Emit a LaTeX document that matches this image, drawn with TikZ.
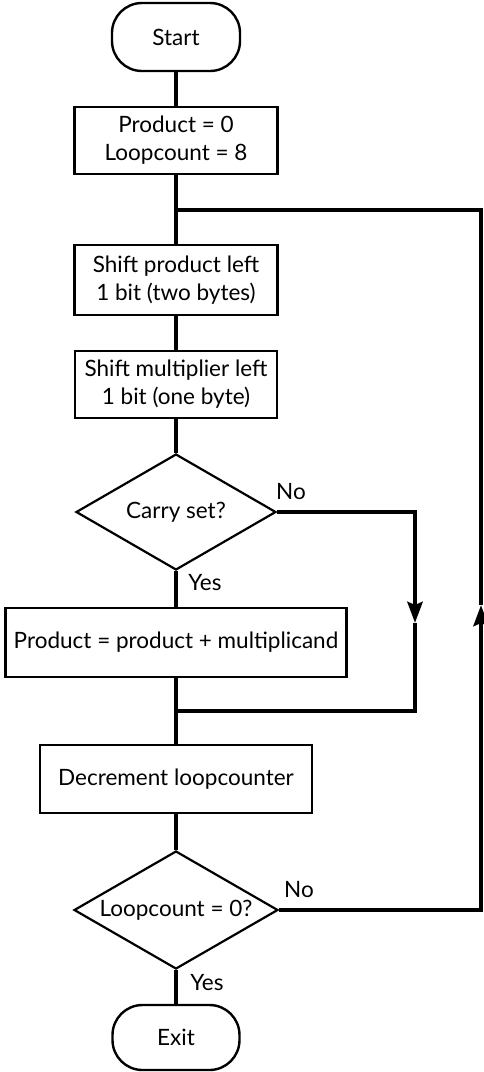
\documentclass[tikz,border=0pt]{standalone}
\usepackage{fontspec}
\setmainfont{Lato}
\usetikzlibrary{shapes.geometric,arrows.meta}
\begin{document}
\begin{tikzpicture}[x=1pt,y=-1pt,
  every node/.style={font=\fontsize{22.5}{28}\selectfont},
  terminal/.style={draw,line width=2.4pt,rounded corners=30pt,inner sep=0pt},
  procbox/.style={draw,line width=2.6pt,rectangle,inner sep=0pt,align=center},
  decision/.style={draw,line width=2.2pt,diamond,inner sep=0pt,aspect=1.72},
  flow/.style={line width=4.4pt},
  tip/.style={-{Stealth[length=21pt,width=15pt,inset=3pt]}},
  lbl/.style={inner sep=0pt}]
\useasboundingbox (0,0) rectangle (483,1072);

% main column
\node[terminal,minimum width=128pt,minimum height=68pt] (start) at (176,37) {Start};
\node[procbox,minimum width=203pt,minimum height=67pt] (init) at (176,140.5) {Product = 0\\Loopcount = 8};
\node[procbox,minimum width=203pt,minimum height=70pt] (shiftp) at (176,280) {Shift product left\\1 bit (two bytes)};
\node[procbox,minimum width=202pt,minimum height=67pt] (shiftm) at (176,384.5) {Shift multiplier left\\1 bit (one byte)};
\node[decision,minimum width=200pt,minimum height=116pt] (carry) at (176,512) {Carry set?};
\node[procbox,minimum width=341pt,minimum height=69pt] (add) at (176,642.5) {Product = product + multiplicand};
\node[procbox,minimum width=272pt,minimum height=68pt] (dec) at (176,779) {Decrement loopcounter};
\node[decision,minimum width=204pt,minimum height=118pt] (zero) at (176,910) {Loopcount = 0?};
\node[terminal,minimum width=127pt,minimum height=65pt] (exit) at (176,1037.5) {Exit};

% branch labels
\node[lbl] (no1) at (291,492) {No};
\node[lbl] (yes1) at (205,583) {Yes};
\node[lbl] (no2) at (299,890) {No};
\node[lbl] (yes2) at (207,983) {Yes};

% junction and turning points
\coordinate (loopjoin) at (176,210);
\coordinate (skipjoin) at (176,711);
\coordinate (skipcorner) at (415,711);
\coordinate (skiparrow) at (415,623);
\coordinate (loopcorner) at (481,210);
\coordinate (looparrow) at (481,605);

% straight flow
\draw[flow] (start) -- (init);
\draw[flow] (init) -- (shiftp);
\draw[flow] (shiftp) -- (shiftm);
\draw[flow] (shiftm) -- (carry);
\draw[flow] (carry) -- (add);
\draw[flow] (add) -- (dec);
\draw[flow] (dec) -- (zero);
\draw[flow] (zero) -- (exit);

% skip the addition when carry is clear
\draw[flow,tip] (carry.east) -| (skiparrow);
\draw[flow] (skiparrow) -- (skipcorner) -- (skipjoin);

% loop back while the counter is not zero
\draw[flow,tip] (zero.east) -| (looparrow);
\draw[flow] (looparrow) -- (loopcorner) -- (loopjoin);
\end{tikzpicture}
\end{document}
